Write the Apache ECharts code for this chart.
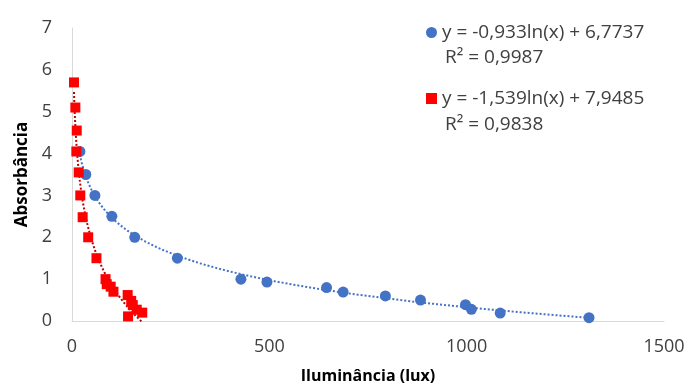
<!DOCTYPE html>
<html>
<head>
<meta charset="utf-8">
<script src="https://cdn.jsdelivr.net/npm/echarts@6/dist/echarts.min.js"></script>
<style>
  html, body { margin: 0; padding: 0; background: #fff; }
  #chart { width: 689px; height: 389px; }
</style>
</head>
<body>
<div id="chart"></div>
<script>
// dados
const blueX = [20, 35, 58, 101, 159, 267, 428, 494, 645, 687, 794, 883, 997, 1012, 1085, 1310];
const blueY = [4.05, 3.5, 3.0, 2.5, 2.0, 1.5, 1.0, 0.93, 0.8, 0.69, 0.6, 0.5, 0.39, 0.28, 0.19, 0.08];
const redX = [5, 8.5, 12, 11, 17, 21, 27, 41, 62, 85, 88, 98, 105, 141, 150, 154, 164, 178, 142];
const redY = [5.7, 5.1, 4.55, 4.05, 3.55, 3.0, 2.48, 2.0, 1.5, 1.0, 0.88, 0.82, 0.7, 0.62, 0.48, 0.38, 0.27, 0.2, 0.11];

// coeficientes das linhas de tendência (y = a ln(x) + b), como no rótulo
const blueFit = [-0.933, 6.7737];
const redFit = [-1.539, 7.9485];
const blueName = 'y = -0,933ln(x) + 6,7737';
const redName = 'y = -1,539ln(x) + 7,9485';
const blueR2 = 'R² = 0,9987';
const redR2 = 'R² = 0,9838';

const xTicks = [0, 500, 1000, 1500];
const yTicks = [0, 1, 2, 3, 4, 5, 6, 7];

const pairs = (xs, ys) => xs.map((x, i) => [x, ys[i]]);

function trend(fit, xs) {
  const lo = Math.min(...xs), hi = Math.max(...xs);
  const pts = [];
  for (let i = 0; i <= 120; i++) {
    const x = lo * Math.pow(hi / lo, i / 120);
    pts.push([x, fit[0] * Math.log(x) + fit[1]]);
  }
  return pts;
}

const font = '"Open Sans", "Liberation Sans", sans-serif';
const blue = '#4472c4';
const red = '#ff0000';

var myChart = echarts.init(document.getElementById('chart'));
var option;

option = {
  animation: false,
  textStyle: { fontFamily: font },
  grid: { left: 72, right: 25, top: 28, bottom: 66 },
  xAxis: {
    type: 'value',
    min: xTicks[0], max: xTicks[xTicks.length - 1], interval: 500,
    name: 'Iluminância (lux)',
    nameLocation: 'middle',
    nameGap: 47,
    nameTextStyle: { fontSize: 16, fontWeight: 'bold', color: '#000', fontFamily: font },
    axisLine: { lineStyle: { color: '#d9d9d9', width: 1 } },
    axisTick: { show: false },
    splitLine: { show: false },
    axisLabel: { fontSize: 18, color: '#404040', margin: 17, fontFamily: font, formatter: v => String(v) }
  },
  yAxis: {
    type: 'value',
    min: yTicks[0], max: yTicks[yTicks.length - 1], interval: 1,
    name: 'Absorbância',
    nameLocation: 'middle',
    nameGap: 35,
    nameTextStyle: { fontSize: 17, fontWeight: 'bold', color: '#000', fontFamily: font },
    axisLine: { show: true, lineStyle: { color: '#d9d9d9', width: 1 } },
    axisTick: { show: false },
    splitLine: { show: false },
    axisLabel: { fontSize: 18, color: '#404040', margin: 20, fontFamily: font }
  },
  legend: {
    orient: 'vertical',
    left: 421,
    top: 18,
    itemGap: 47,
    itemWidth: 11,
    itemHeight: 11,
    textStyle: { fontSize: 19, color: '#404040', fontFamily: font },
    data: [
      { name: blueName, icon: 'circle' },
      { name: redName, icon: 'rect' }
    ]
  },
  graphic: [
    { type: 'text', left: 445, top: 48, style: { text: blueR2, fontSize: 19, fill: '#404040', fontFamily: font } },
    { type: 'text', left: 445, top: 115, style: { text: redR2, fontSize: 19, fill: '#404040', fontFamily: font } }
  ],
  series: [
    {
      name: 'tendência azul',
      type: 'line',
      data: trend(blueFit, blueX),
      showSymbol: false,
      lineStyle: { color: blue, width: 2, type: [2, 2] },
      z: 1
    },
    {
      name: 'tendência vermelha',
      type: 'line',
      data: trend(redFit, redX),
      showSymbol: false,
      lineStyle: { color: '#c00000', width: 2, type: [2, 2] },
      z: 1
    },
    {
      name: blueName,
      type: 'scatter',
      data: pairs(blueX, blueY),
      symbol: 'circle',
      symbolSize: 11,
      itemStyle: { color: blue, opacity: 1 },
      z: 3
    },
    {
      name: redName,
      type: 'scatter',
      data: pairs(redX, redY),
      symbol: 'rect',
      symbolSize: 10,
      itemStyle: { color: red, opacity: 1 },
      z: 3
    }
  ]
};

option && myChart.setOption(option);
</script>
</body>
</html>
